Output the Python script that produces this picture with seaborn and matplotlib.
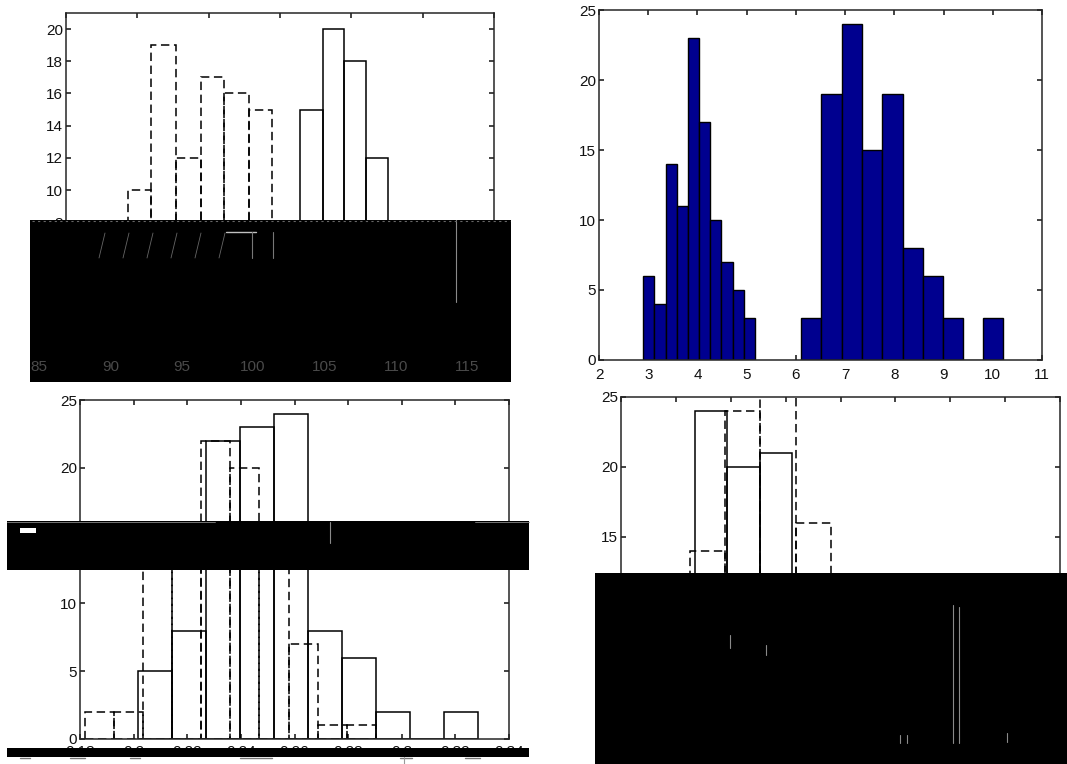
import numpy as np
import seaborn as sns
import matplotlib.pyplot as plt
from matplotlib.patches import Rectangle
from matplotlib.lines import Line2D

W, H = 1067, 764

# top left
a_solid_edges = [101.4, 103.0, 104.5, 106.05, 107.55]
a_solid_counts = [15, 20, 18, 12]
a_dash_edges = [89.33, 90.97, 92.7, 94.43, 96.06, 97.84, 99.47]
a_dash_counts = [10, 19, 12, 17, 16, 15]
a_xticks = [85, 90, 95, 100, 105, 110, 115]
a_yticks = [0, 2, 4, 6, 8, 10, 12, 14, 16, 18, 20]

# top right
b_edges_1 = [2.9, 3.127, 3.353, 3.58, 3.807, 4.033, 4.26, 4.487, 4.713, 4.94, 5.17]
b_counts_1 = [6, 4, 14, 11, 23, 17, 10, 7, 5, 3]
b_edges_2 = [6.1, 6.52, 6.93, 7.35, 7.75, 8.17, 8.58, 8.99, 9.39, 9.8, 10.21]
b_counts_2 = [3, 19, 24, 15, 19, 8, 6, 3, 0, 3]
b_xticks = [2, 3, 4, 5, 6, 7, 8, 9, 10, 11]
b_yticks = [0, 5, 10, 15, 20, 25]

# bottom left
c_solid_edges = [0.2017, 0.2144, 0.227, 0.2396, 0.2524, 0.2651, 0.2777, 0.2904, 0.3031, 0.3158, 0.3284]
c_solid_counts = [5, 8, 22, 23, 24, 8, 6, 2, 0, 2]
c_dash_edges = [0.1818, 0.1926, 0.2036, 0.2144, 0.2253, 0.2361, 0.2469, 0.2578, 0.2686, 0.2796, 0.2904]
c_dash_counts = [2, 2, 16, 16, 22, 20, 14, 7, 1, 1]
c_xticks = [0.18, 0.2, 0.22, 0.24, 0.26, 0.28, 0.3, 0.32, 0.34]
c_xlabels = ['0.18', '0.2', '0.22', '0.24', '0.26', '0.28', '0.3', '0.32', '0.34']
c_yticks = [0, 5, 10, 15, 20, 25]

# bottom right, the third dashed bar runs off the top
d_solid_edges = [0.2069, 0.2185, 0.2307, 0.2423]
d_solid_counts = [24, 20, 21]
d_dash_edges = [0.205, 0.2179, 0.2307, 0.2437, 0.2567]
d_dash_counts = [14, 24, 27, 16]
d_xticks = [0.18, 0.2, 0.22, 0.24, 0.26, 0.28, 0.3, 0.32, 0.34]
d_xlabels = ['0.18', '0.2', '0.22', '0.24', '0.26', '0.28', '0.3', '0.32', '']
d_yticks = [0, 5, 10, 15, 20, 25]

sns.set_theme(style='ticks', rc={
    'axes.linewidth': 1.1, 'xtick.direction': 'in', 'ytick.direction': 'in',
    'xtick.top': True, 'ytick.right': True, 'xtick.major.size': 3.5, 'ytick.major.size': 3.5,
    'xtick.major.width': 1.1, 'ytick.major.width': 1.1, 'xtick.major.pad': 6, 'ytick.major.pad': 2,
    'xtick.labelsize': 11, 'ytick.labelsize': 11,
    'xtick.color': '#111111', 'ytick.color': '#111111',
})
plt.rcParams['font.family'] = ['Liberation Sans', 'DejaVu Sans']

fig = plt.figure(figsize=(W / 100, H / 100), dpi=100, facecolor='white')


def axes_px(left, top, right, bottom):
    return fig.add_axes([left / W, 1 - bottom / H, (right - left) / W, (bottom - top) / H])


def outline(ax, edges, counts, dashed=False):
    centers = (np.array(edges[:-1]) + np.array(edges[1:])) / 2
    ls = (0, (5.5, 3)) if dashed else '-'
    sns.histplot(x=centers, weights=counts, bins=edges, fill=False, color='black',
                 linewidth=1.1, linestyle=ls, ax=ax)


def finish(ax, xlim, ylim, xticks, yticks, xlabels=None):
    ax.set_xlim(xlim)
    ax.set_ylim(ylim)
    ax.set_xticks(xticks)
    ax.set_yticks(yticks)
    if xlabels is not None:
        ax.set_xticklabels(xlabels)
    ax.set_xlabel('')
    ax.set_ylabel('')


def black_box(left, top, right, bottom):
    fig.add_artist(Rectangle((left / W, 1 - bottom / H), (right - left) / W, (bottom - top) / H,
                             transform=fig.transFigure, facecolor='black', edgecolor='none', zorder=5))


def scratch(x0, y0, x1, y1, color='#8a8a8a', lw=0.8, ls='-'):
    fig.add_artist(Line2D([x0 / W, x1 / W], [1 - y0 / H, 1 - y1 / H], transform=fig.transFigure,
                          color=color, linewidth=lw, linestyle=ls, zorder=6))


ax1 = axes_px(66, 13, 494, 351)
outline(ax1, a_dash_edges, a_dash_counts, dashed=True)
outline(ax1, a_solid_edges, a_solid_counts)
finish(ax1, (85, 115), (0, 21), a_xticks, a_yticks)
ax1.set_xticklabels([])

ax2 = axes_px(599, 10, 1042, 360)
for edges, counts in [(b_edges_1, b_counts_1), (b_edges_2, b_counts_2)]:
    centers = (np.array(edges[:-1]) + np.array(edges[1:])) / 2
    sns.histplot(x=centers, weights=counts, bins=edges, color='#00008f', alpha=1,
                 edgecolor='black', linewidth=1.0, ax=ax2)
finish(ax2, (2, 11), (0, 25), b_xticks, b_yticks)

ax3 = axes_px(80, 400, 509, 739)
outline(ax3, c_dash_edges, c_dash_counts, dashed=True)
outline(ax3, c_solid_edges, c_solid_counts)
finish(ax3, (0.18, 0.34), (0, 25), c_xticks, c_yticks, c_xlabels)
ax3.tick_params(axis='x', pad=4.5)

ax4 = axes_px(621, 397, 1060, 747)
outline(ax4, d_dash_edges, d_dash_counts, dashed=True)
outline(ax4, d_solid_edges, d_solid_counts)
finish(ax4, (0.18, 0.34), (0, 25), d_xticks, d_yticks, d_xlabels)
ax4.tick_params(axis='x', pad=1)

# the damaged bands of the scan
black_box(30, 220, 511, 382)
black_box(7, 521, 529, 570)
black_box(7, 748, 529, 757)
black_box(595, 573, 1067, 764)

# tick labels of the top left panel sit shifted inside the black band
for tick in a_xticks:
    px = 66 + (tick - 85) / 30 * 428 - 27
    fig.text(px / W, 1 - 367 / H, str(tick), ha='center', va='center', fontsize=11,
             color='#4a4a4a', zorder=7)

# leftovers in the black bands
scratch(456, 220, 456, 302)
scratch(226, 232, 256, 232, color='#c0c0c0', lw=1.0)
scratch(252, 232, 252, 258, color='#777777')
scratch(273, 232, 273, 258, color='#777777')
scratch(32, 221, 510, 221, color='#666666', lw=0.8, ls=(0, (2, 3)))
for px in [102, 126, 150, 174, 198, 222]:
    scratch(px + 3, 233, px - 3, 258, color='#666666', lw=0.6)
scratch(330, 522, 330, 543, color='#8a8a8a')
scratch(7, 522, 215, 522, color='#888888', lw=0.6)
scratch(475, 522, 529, 522, color='#888888', lw=0.6)
fig.add_artist(Rectangle((20 / W, 1 - 533 / H), 16 / W, 5 / H, transform=fig.transFigure,
                         facecolor='white', edgecolor='none', zorder=6))
scratch(953, 605, 953, 743)
scratch(959, 607, 959, 743)
scratch(900, 735, 900, 743)
scratch(907, 735, 907, 743)
scratch(1007, 733, 1007, 742)
scratch(730, 635, 730, 648)
scratch(766, 645, 766, 655)
# bits of the tick labels under the lower band
for x0, x1 in [(20, 30), (70, 85), (130, 140), (240, 272), (400, 412), (465, 480)]:
    scratch(x0, 758, x1, 758, color='#777777', lw=1.0)
scratch(404, 757, 404, 764, color='#999999')

fig.savefig('out.png', dpi=100)
